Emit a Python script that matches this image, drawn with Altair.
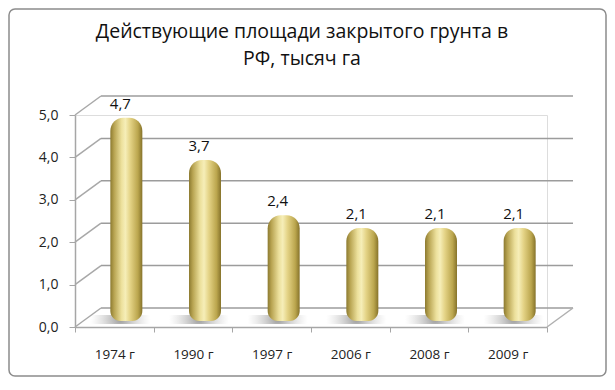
import altair as alt
import pandas as pd

# ---- data ----
years = ["1974 г", "1990 г", "1997 г", "2006 г", "2008 г", "2009 г"]
values = [4.7, 3.7, 2.4, 2.1, 2.1, 2.1]
y_ticks = [0, 1, 2, 3, 4, 5]
title_lines = ["Действующие площади закрытого грунта в", "РФ, тысяч га"]

df = pd.DataFrame({"year": years, "value": values})
grid_df = pd.DataFrame({"g": y_ticks})

# ---- layout constants ----
W, H = 472, 212
DX, DY = 26, -19          # 3D depth offset
FONT = "Open Sans"

yscale = alt.Scale(domain=[0, 5], nice=False, zero=True)
xscale = alt.Scale(paddingInner=0, paddingOuter=0)

gold = alt.LinearGradient(
    gradient="linear", x1=0, y1=0, x2=1, y2=0,
    stops=[
        alt.GradientStop(offset=0.0, color="#8c7a30"),
        alt.GradientStop(offset=0.12, color="#b8a452"),
        alt.GradientStop(offset=0.35, color="#ece09c"),
        alt.GradientStop(offset=0.47, color="#f6eeb8"),
        alt.GradientStop(offset=0.62, color="#e4d386"),
        alt.GradientStop(offset=0.86, color="#bba64e"),
        alt.GradientStop(offset=1.0, color="#86732b"),
    ],
)
shadow_fill = alt.RadialGradient(
    gradient="radial", x1=0.5, y1=0.5, r1=0, x2=0.5, y2=0.5, r2=0.5,
    stops=[
        alt.GradientStop(offset=0.0, color="rgba(90,90,90,0.6)"),
        alt.GradientStop(offset=1.0, color="rgba(170,170,170,0)"),
    ],
)

base = alt.Chart(df)
X = alt.X("year:N", sort=years, scale=xscale, title=None,
          axis=alt.Axis(tickBand="extent", tickSize=5, labelPadding=15,
                        labelAngle=0, labelFontSize=13.5, labelColor="#222",
                        labelFont=FONT, domainColor="#a6a6a6", tickColor="#a6a6a6",
                        domainWidth=1.5, grid=False))
YAX = alt.Axis(values=y_ticks, labelExpr="replace(format(datum.value,'.1f'),'.',',')",
               tickSize=6, labelPadding=11, labelFontSize=14, labelColor="#222",
               labelFont=FONT, domainColor="#a6a6a6", tickColor="#a6a6a6",
               domainWidth=1.5, grid=False, title=None)

# outer frame (decorative)
frame = alt.Chart(pd.DataFrame({"k": [0]})).mark_rect(
    fill=None, stroke="#8c8c8c", strokeWidth=1.5, cornerRadius=6
).encode(x=alt.value(-66), x2=alt.value(531), y=alt.value(-106), y2=alt.value(261))

# title as two centred text lines
title = alt.Chart(pd.DataFrame({"k": [0]})).mark_text(
    text=title_lines, lineHeight=27, font=FONT, fontSize=19.5, color="#111",
    align="center", baseline="alphabetic"
).encode(x=alt.value(227), y=alt.value(-77))

# back wall gridlines
back = alt.Chart(grid_df).mark_rule(color="#9c9c9c", strokeWidth=1.5, yOffset=DY).encode(
    y=alt.Y("g:Q", scale=yscale, axis=YAX),
    x=alt.value(DX), x2=alt.value(W + DX),
)
# left wall diagonals
side = alt.Chart(grid_df).mark_rule(color="#a8a8a8", strokeWidth=1.5, y2Offset=DY).encode(
    y=alt.Y("g:Q", scale=yscale, axis=YAX), y2="g:Q",
    x=alt.value(0), x2=alt.value(DX),
)
# floor right edge
floor_edge = alt.Chart(pd.DataFrame({"k": [0]})).mark_rule(color="#b0b0b0", strokeWidth=1.5).encode(
    x=alt.value(W), x2=alt.value(W + DX), y=alt.value(H), y2=alt.value(H + DY)
)

shadow = base.mark_bar(width=60, xOffset=6, yOffset=-12, y2Offset=-3, color=shadow_fill).encode(
    x=X, y=alt.datum(0, scale=yscale, axis=YAX), y2=alt.datum(0)
)

bars = base.mark_bar(
    width=32, xOffset=12, yOffset=-10, y2Offset=-6, color=gold,
    cornerRadiusTopLeft=13, cornerRadiusTopRight=13,
    cornerRadiusBottomLeft=10, cornerRadiusBottomRight=10,
).encode(
    x=X,
    y=alt.Y("value:Q", scale=yscale, stack=None, axis=YAX),
    y2=alt.datum(0),
)

labels = base.transform_calculate(
    lab="replace(format(datum.value,'.1f'),'.',',')"
).mark_text(xOffset=6, yOffset=-16, baseline="bottom", fontSize=15, font=FONT, color="#111").encode(
    x=X, y=alt.Y("value:Q", scale=yscale, axis=YAX), text="lab:N"
)

chart = alt.layer(frame, title, back, side, floor_edge, shadow, bars, labels).properties(
    width=W, height=H,
    autosize=alt.AutoSizeParams(type="none"),
    padding={"left": 67, "top": 107, "right": 60, "bottom": 50},
).configure_view(stroke=None).configure(background="white")

chart.save("out.html", embed_options={"renderer": "svg", "actions": False})
